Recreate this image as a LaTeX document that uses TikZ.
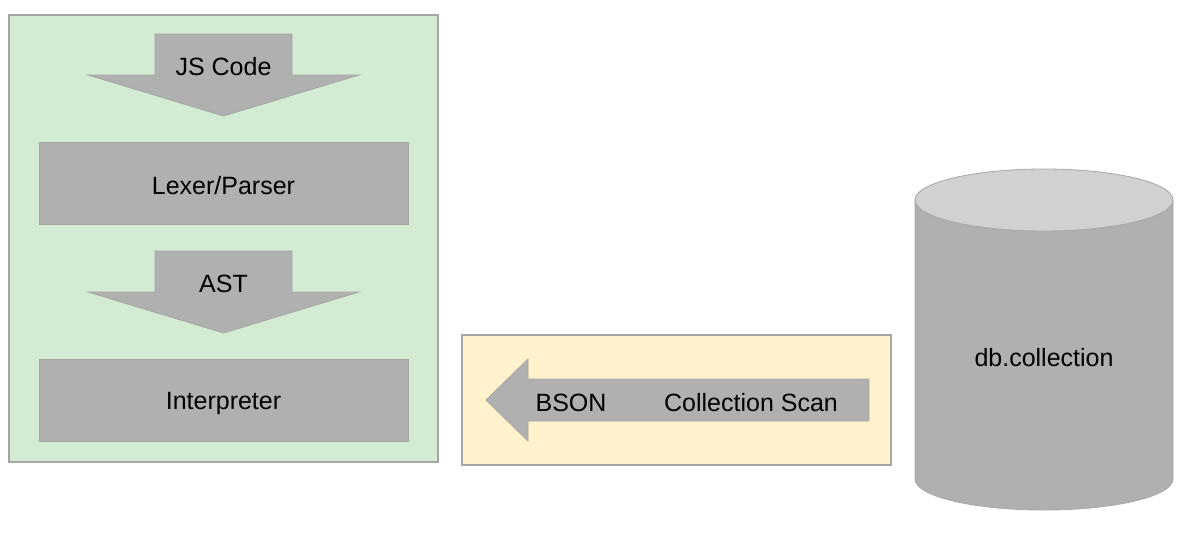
\documentclass[tikz,border=0pt]{standalone}
\usepackage{fontspec}
\setmainfont{Liberation Sans}
\usepackage{xcolor}
\definecolor{greenbg}{HTML}{D3EBD3}
\definecolor{yellowbg}{HTML}{FFF2CC}
\definecolor{blockgray}{HTML}{B0B0B0}
\definecolor{edgegray}{HTML}{A6A6A6}
\definecolor{topgray}{HTML}{D1D1D1}

\begin{document}
\begin{tikzpicture}[x=1pt,y=-1pt,font=\fontsize{25}{29}\selectfont,
  panel/.style={draw=edgegray,line width=1.5pt},
  block/.style={fill=blockgray,draw=edgegray,line width=0.8pt},
  stagebox/.style={block,minimum width=369pt,minimum height=82pt,inner sep=0pt}]
  \useasboundingbox[fill=white] (0,0) rectangle (1183,541);

  \draw[panel,fill=greenbg] (9,15) rectangle (438,462);
  \draw[panel,fill=yellowbg] (462,335) rectangle (891,465);

  \foreach \y/\name/\txt in {34/jscode/JS Code, 251/ast/AST}{
  \draw[block] (155,\y) -- (292,\y) -- (292,\y+41) -- (359,\y+41) -- (223.5,\y+82) -- (88,\y+41) -- (155,\y+41) -- cycle;
  \node (\name) at (223.5,\y+33) {\txt}; }

  \draw[block] (39,142) rectangle (408,224);
  \node (lexer) at (223.5,186) {Lexer/Parser};
  \draw[block] (39,359) rectangle (408,441);
  \node (interp) at (223.5,403) {Interpreter};

  \draw[block] (486,400) -- (528,359) -- (528,379) -- (869,379) -- (869,421) -- (528,421) -- (528,441) -- cycle;
  \node (bson) at (571,403) {BSON};
  \node (scan) at (751,403) {Collection Scan};

  \filldraw[block] (915,200) -- (915,479) arc[start angle=180,end angle=0,x radius=129,y radius=31] -- (1173,200) -- cycle;
  \filldraw[block,fill=topgray] (1044,200) ellipse[x radius=129,y radius=31];
  \node (dbcoll) at (1044,358) {db.collection};

 \end{tikzpicture}
\end{document}
